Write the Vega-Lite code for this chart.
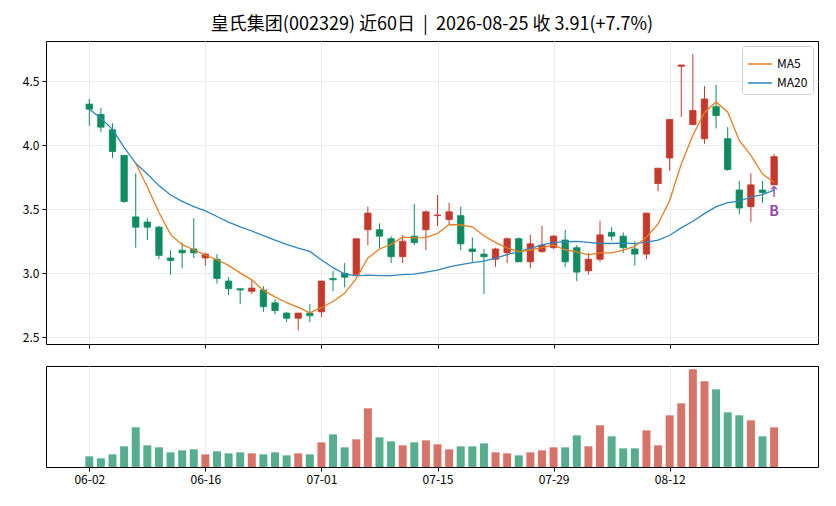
{
  "$schema": "https://vega.github.io/schema/vega-lite/v6.json",
  "padding": {"left": 21, "top": 15, "right": 15, "bottom": 18},
  "title": {
    "text": "皇氏集团(002329) 近60日\u00a0\u00a0|\u00a0\u00a02026-08-25 收 3.91(+7.7%)",
    "font": "Noto Sans CJK SC",
    "fontSize": 18,
    "fontWeight": "normal",
    "color": "#000000",
    "anchor": "middle",
    "frame": "group",
    "offset": 7
  },
  "config": {
    "view": {"stroke": "#000000", "strokeWidth": 1},
    "axis": {
      "labelFont": "Noto Sans CJK SC",
      "labelFontSize": 12,
      "labelColor": "#000000",
      "tickColor": "#000000",
      "tickSize": 4,
      "labelPadding": 3,
      "domain": false,
      "gridColor": "#ebebeb",
      "gridWidth": 1,
      "title": null
    }
  },
  "data": {
    "values": [
      {"i": 0, "d": "06-02", "o": 4.32, "h": 4.36, "l": 4.15, "c": 4.28, "v": 32},
      {"i": 1, "d": "06-03", "o": 4.24, "h": 4.29, "l": 4.10, "c": 4.14, "v": 26},
      {"i": 2, "d": "06-04", "o": 4.12, "h": 4.17, "l": 3.90, "c": 3.95, "v": 38},
      {"i": 3, "d": "06-05", "o": 3.92, "h": 3.92, "l": 3.55, "c": 3.56, "v": 62},
      {"i": 4, "d": "06-08", "o": 3.44, "h": 3.78, "l": 3.20, "c": 3.36, "v": 119},
      {"i": 5, "d": "06-09", "o": 3.40, "h": 3.43, "l": 3.26, "c": 3.36, "v": 65},
      {"i": 6, "d": "06-10", "o": 3.36, "h": 3.37, "l": 3.11, "c": 3.14, "v": 59},
      {"i": 7, "d": "06-11", "o": 3.12, "h": 3.18, "l": 2.99, "c": 3.10, "v": 44},
      {"i": 8, "d": "06-12", "o": 3.18, "h": 3.24, "l": 3.04, "c": 3.16, "v": 50},
      {"i": 9, "d": "06-15", "o": 3.19, "h": 3.43, "l": 3.12, "c": 3.16, "v": 53},
      {"i": 10, "d": "06-16", "o": 3.12, "h": 3.16, "l": 3.06, "c": 3.15, "v": 38},
      {"i": 11, "d": "06-17", "o": 3.11, "h": 3.15, "l": 2.92, "c": 2.96, "v": 47},
      {"i": 12, "d": "06-18", "o": 2.94, "h": 2.97, "l": 2.83, "c": 2.88, "v": 41},
      {"i": 13, "d": "06-22", "o": 2.88, "h": 2.88, "l": 2.76, "c": 2.87, "v": 44},
      {"i": 14, "d": "06-23", "o": 2.86, "h": 2.945, "l": 2.84, "c": 2.885, "v": 41},
      {"i": 15, "d": "06-24", "o": 2.87, "h": 2.90, "l": 2.70, "c": 2.74, "v": 38},
      {"i": 16, "d": "06-25", "o": 2.77, "h": 2.80, "l": 2.68, "c": 2.71, "v": 44},
      {"i": 17, "d": "06-26", "o": 2.69, "h": 2.70, "l": 2.62, "c": 2.65, "v": 35},
      {"i": 18, "d": "06-29", "o": 2.65, "h": 2.69, "l": 2.555, "c": 2.69, "v": 41},
      {"i": 19, "d": "06-30", "o": 2.69, "h": 2.76, "l": 2.62, "c": 2.67, "v": 38},
      {"i": 20, "d": "07-01", "o": 2.70, "h": 2.94, "l": 2.66, "c": 2.94, "v": 74},
      {"i": 21, "d": "07-02", "o": 2.96, "h": 3.02, "l": 2.86, "c": 2.95, "v": 98},
      {"i": 22, "d": "07-03", "o": 3.00, "h": 3.08, "l": 2.89, "c": 2.97, "v": 59},
      {"i": 23, "d": "07-06", "o": 2.99, "h": 3.27, "l": 2.99, "c": 3.27, "v": 83},
      {"i": 24, "d": "07-07", "o": 3.34, "h": 3.52, "l": 3.22, "c": 3.47, "v": 176},
      {"i": 25, "d": "07-08", "o": 3.34, "h": 3.39, "l": 3.19, "c": 3.29, "v": 89},
      {"i": 26, "d": "07-09", "o": 3.27, "h": 3.29, "l": 3.08, "c": 3.13, "v": 77},
      {"i": 27, "d": "07-10", "o": 3.13, "h": 3.30, "l": 3.08, "c": 3.25, "v": 65},
      {"i": 28, "d": "07-13", "o": 3.29, "h": 3.54, "l": 3.22, "c": 3.24, "v": 74},
      {"i": 29, "d": "07-14", "o": 3.34, "h": 3.49, "l": 3.18, "c": 3.48, "v": 80},
      {"i": 30, "d": "07-15", "o": 3.45, "h": 3.61, "l": 3.37, "c": 3.455, "v": 68},
      {"i": 31, "d": "07-16", "o": 3.42, "h": 3.55, "l": 3.375, "c": 3.48, "v": 53},
      {"i": 32, "d": "07-17", "o": 3.45, "h": 3.52, "l": 3.18, "c": 3.23, "v": 62},
      {"i": 33, "d": "07-20", "o": 3.19, "h": 3.28, "l": 3.09, "c": 3.17, "v": 62},
      {"i": 34, "d": "07-21", "o": 3.15, "h": 3.19, "l": 2.84, "c": 3.13, "v": 71},
      {"i": 35, "d": "07-22", "o": 3.11, "h": 3.20, "l": 3.05, "c": 3.19, "v": 44},
      {"i": 36, "d": "07-23", "o": 3.16, "h": 3.28, "l": 3.08, "c": 3.27, "v": 41},
      {"i": 37, "d": "07-24", "o": 3.27, "h": 3.28, "l": 3.09, "c": 3.09, "v": 35},
      {"i": 38, "d": "07-27", "o": 3.09, "h": 3.30, "l": 3.04, "c": 3.23, "v": 44},
      {"i": 39, "d": "07-28", "o": 3.17, "h": 3.37, "l": 3.16, "c": 3.22, "v": 50},
      {"i": 40, "d": "07-29", "o": 3.20, "h": 3.30, "l": 3.19, "c": 3.29, "v": 59},
      {"i": 41, "d": "07-30", "o": 3.26, "h": 3.34, "l": 3.05, "c": 3.09, "v": 59},
      {"i": 42, "d": "07-31", "o": 3.20, "h": 3.22, "l": 2.94, "c": 3.01, "v": 95},
      {"i": 43, "d": "08-03", "o": 3.02, "h": 3.16, "l": 2.99, "c": 3.11, "v": 62},
      {"i": 44, "d": "08-04", "o": 3.11, "h": 3.41, "l": 3.09, "c": 3.30, "v": 125},
      {"i": 45, "d": "08-05", "o": 3.32, "h": 3.36, "l": 3.255, "c": 3.29, "v": 92},
      {"i": 46, "d": "08-06", "o": 3.29, "h": 3.32, "l": 3.16, "c": 3.20, "v": 56},
      {"i": 47, "d": "08-07", "o": 3.19, "h": 3.25, "l": 3.06, "c": 3.15, "v": 56},
      {"i": 48, "d": "08-10", "o": 3.15, "h": 3.47, "l": 3.11, "c": 3.47, "v": 110},
      {"i": 49, "d": "08-11", "o": 3.70, "h": 3.82, "l": 3.64, "c": 3.82, "v": 65},
      {"i": 50, "d": "08-12", "o": 3.90, "h": 4.20, "l": 3.80, "c": 4.20, "v": 155},
      {"i": 51, "d": "08-13", "o": 4.615, "h": 4.625, "l": 4.22, "c": 4.625, "v": 191},
      {"i": 52, "d": "08-14", "o": 4.16, "h": 4.71, "l": 4.16, "c": 4.27, "v": 293},
      {"i": 53, "d": "08-17", "o": 4.05, "h": 4.46, "l": 4.01, "c": 4.36, "v": 257},
      {"i": 54, "d": "08-18", "o": 4.30, "h": 4.47, "l": 4.13, "c": 4.23, "v": 233},
      {"i": 55, "d": "08-19", "o": 4.05, "h": 4.14, "l": 3.80, "c": 3.81, "v": 164},
      {"i": 56, "d": "08-20", "o": 3.65, "h": 3.72, "l": 3.46, "c": 3.51, "v": 155},
      {"i": 57, "d": "08-21", "o": 3.52, "h": 3.78, "l": 3.40, "c": 3.69, "v": 140},
      {"i": 58, "d": "08-24", "o": 3.65, "h": 3.72, "l": 3.55, "c": 3.63, "v": 92},
      {"i": 59, "d": "08-25", "o": 3.69, "h": 3.93, "l": 3.69, "c": 3.91, "v": 119}
    ]
  },
  "spacing": 16,
  "vconcat": [
    {
      "width": 772,
      "height": 303,
      "encoding": {
        "x": {
          "field": "i",
          "type": "quantitative",
          "scale": {"domain": [-3.3, 62.35], "nice": false, "zero": false},
          "axis": {
            "values": [0, 10, 20, 30, 40, 50],
            "labels": false,
            "ticks": true,
            "grid": true
          }
        }
      },
      "layer": [
        {
          "mark": {"type": "rule", "strokeWidth": 1},
          "encoding": {
            "y": {
              "field": "l",
              "type": "quantitative",
              "scale": {"domain": [2.449, 4.812], "nice": false, "zero": false},
              "axis": {"values": [2.5, 3, 3.5, 4, 4.5], "format": ".1f", "grid": true}
            },
            "y2": {"field": "h"},
            "color": {
              "condition": {"test": "datum.c >= datum.o", "value": "#c4392b"},
              "value": "#0e8c5f"
            }
          }
        },
        {
          "mark": {"type": "bar", "size": 6.4, "strokeWidth": 0.8},
          "encoding": {
            "y": {"field": "o", "type": "quantitative"},
            "y2": {"field": "c"},
            "color": {
              "condition": {"test": "datum.c >= datum.o", "value": "#c4392b"},
              "value": "#0e8c5f"
            },
            "stroke": {
              "condition": {"test": "datum.c >= datum.o", "value": "#c4392b"},
              "value": "#0e8c5f"
            }
          }
        },
        {
          "transform": [
            {"window": [{"op": "mean", "field": "c", "as": "MA5"}], "sort": [{"field": "i"}], "frame": [-4, 0]},
            {"window": [{"op": "mean", "field": "c", "as": "MA20"}], "sort": [{"field": "i"}], "frame": [-19, 0]},
            {"fold": ["MA5", "MA20"], "as": ["k", "ma"]},
            {"filter": "datum.k == 'MA20' || datum.i >= 4"}
          ],
          "mark": {"type": "line", "strokeWidth": 1.3},
          "encoding": {
            "y": {"field": "ma", "type": "quantitative"},
            "order": {"field": "i", "type": "quantitative"},
            "color": {
              "field": "k",
              "type": "nominal",
              "scale": {"domain": ["MA5", "MA20"], "range": ["#e67e22", "#2e86c1"]},
              "legend": {
                "title": null,
                "orient": "top-right",
                "offset": 5,
                "labelFont": "Noto Sans CJK SC",
                "labelFontSize": 12,
                "labelColor": "#000000",
                "symbolType": "stroke",
                "symbolSize": 600,
                "symbolStrokeWidth": 1.5,
                "strokeColor": "#cccccc",
                "fillColor": "#ffffff",
                "cornerRadius": 3,
                "padding": 5,
                "rowPadding": 0
              }
            }
          }
        },
        {
          "data": {"values": [{"i": 59, "l": 3.69, "sig": "B"}]},
          "mark": {"type": "text", "text": "↑", "fontSize": 15, "baseline": "top", "dy": 0, "color": "#8e44ad", "font": "DejaVu Sans"},
          "encoding": {
            "y": {"field": "l", "type": "quantitative"}
          }
        },
        {
          "data": {"values": [{"i": 59, "l": 3.69, "sig": "B"}]},
          "mark": {"type": "text", "fontSize": 14, "fontWeight": "bold", "baseline": "middle", "dy": 27, "color": "#8e44ad", "font": "Noto Sans CJK SC"},
          "encoding": {
            "y": {"field": "l", "type": "quantitative"},
            "text": {"field": "sig"}
          }
        }
      ]
    },
    {
      "width": 772,
      "height": 101,
      "mark": {"type": "bar", "size": 8, "opacity": 0.7},
      "encoding": {
        "x": {
          "field": "i",
          "type": "quantitative",
          "scale": {"domain": [-3.3, 62.35], "nice": false, "zero": false},
          "axis": {
            "values": [0, 10, 20, 30, 40, 50],
            "labelExpr": "['06-02', '06-16', '07-01', '07-15', '07-29', '08-12'][datum.value / 10]",
            "grid": true
          }
        },
        "y": {
          "field": "v",
          "type": "quantitative",
          "scale": {"domain": [0, 303], "nice": false},
          "axis": null
        },
        "color": {
          "condition": {"test": "datum.c >= datum.o", "value": "#c4392b"},
          "value": "#0e8c5f"
        }
      }
    }
  ]
}
